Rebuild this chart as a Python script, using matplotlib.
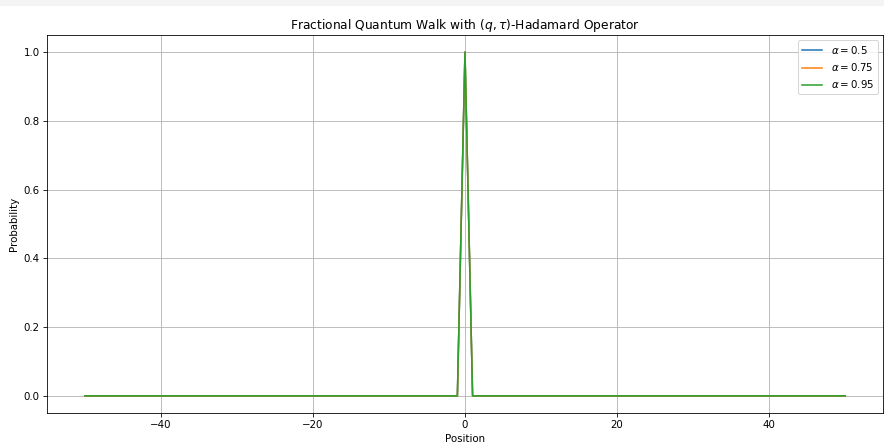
import matplotlib
matplotlib.use("Agg")
import matplotlib.pyplot as plt
from matplotlib.patches import Rectangle

# walker positions and final probability distribution for each fractional order
positions = list(range(-50, 51))
alphas = [0.5, 0.75, 0.95]
prob_alpha_050 = [0.0] * 50 + [1.0] + [0.0] * 50
prob_alpha_075 = [0.0] * 50 + [1.0] + [0.0] * 50
prob_alpha_095 = [0.0] * 50 + [1.0] + [0.0] * 50
probabilities = [prob_alpha_050, prob_alpha_075, prob_alpha_095]

DPI = 73.67
fig = plt.figure(figsize=(884 / DPI, 447 / DPI), dpi=DPI)
ax = fig.add_axes([0.053, 0.076, 0.946, 0.846])

# thin strip along the top edge
fig.patches.append(Rectangle((0, 0.988), 1, 0.012, transform=fig.transFigure,
                             color="#f4f4f4", zorder=0))

for a, prob in zip(alphas, probabilities):
    ax.plot(positions, prob, label=rf"$\alpha = {a}$")

ax.set_title(r"Fractional Quantum Walk with $(q, \tau)$-Hadamard Operator")
ax.set_xlabel("Position")
ax.set_ylabel("Probability")
ax.legend(loc="upper right")
ax.grid(True)

fig.savefig("out.png", dpi=DPI)
